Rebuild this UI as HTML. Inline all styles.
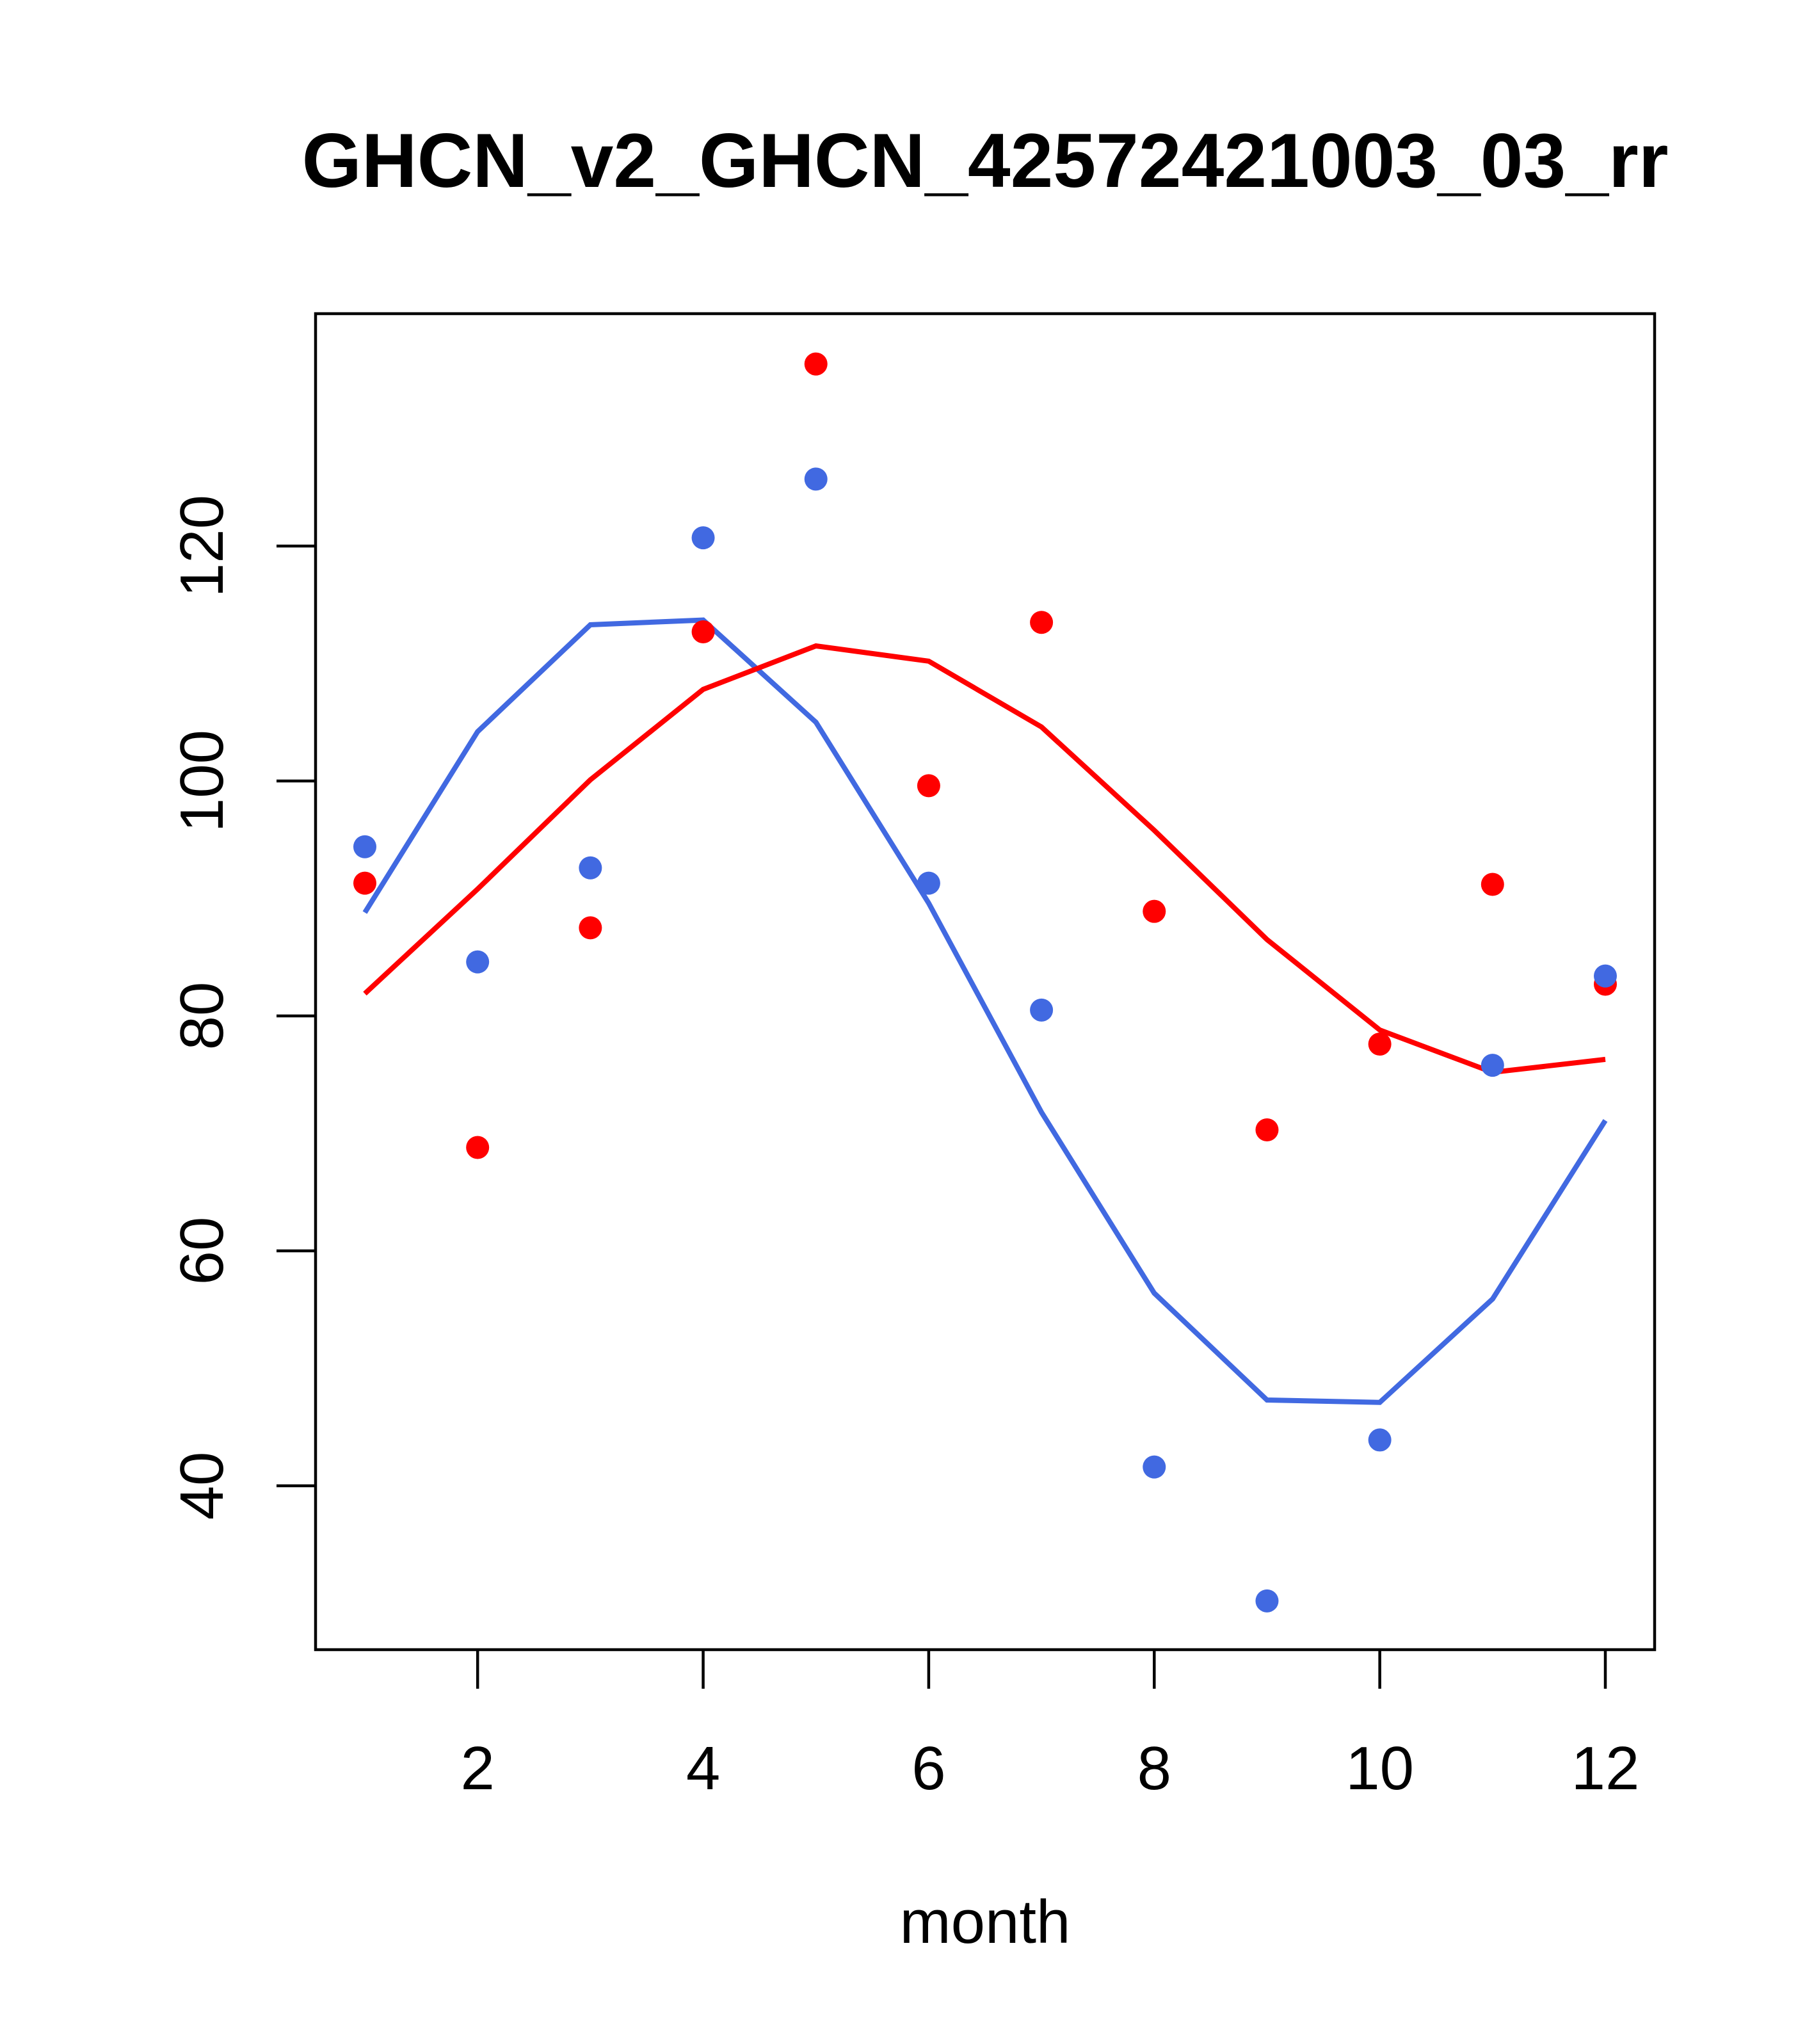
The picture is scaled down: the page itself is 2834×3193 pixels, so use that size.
<!DOCTYPE html>
<html><head><meta charset="utf-8"><style>html,body{margin:0;padding:0;background:#fff}</style></head>
<body>
<svg id="chart" width="2834" height="3188" viewBox="0 0 2834 3188" xmlns="http://www.w3.org/2000/svg" font-family="Liberation Sans, sans-serif">
<rect width="2834" height="3188" fill="#fff"/>
<text x="1539" y="292" text-anchor="middle" font-size="120" font-weight="bold">GHCN_v2_GHCN_42572421003_03_rr</text>
<rect x="493" y="490" width="2092" height="2087" fill="none" stroke="#000" stroke-width="4.5"/>
<text x="1539" y="3035" text-anchor="middle" font-size="96">month</text>
<g id="axes"></g><g id="series"></g>
</svg>
<script>
const months=[1,2,3,4,5,6,7,8,9,10,11,12];
const redPoints=[91.3,68.8,87.5,112.7,135.5,99.6,113.5,88.9,70.3,77.6,91.2,82.7];
const bluePoints=[94.4,84.6,92.6,120.7,125.7,91.3,80.5,41.6,30.2,43.9,75.8,83.4];
const redLine=[81.9,90.8,100.1,107.8,111.5,110.2,104.6,95.8,86.5,78.8,75.2,76.3];
const blueLine=[88.8,104.2,113.3,113.7,105.0,89.6,71.8,56.4,47.3,47.1,55.9,71.1];
const xTicks=[2,4,6,8,10,12];
const yTicks=[40,60,80,100,120];
const NS="http://www.w3.org/2000/svg";
function xs(m){return 570+(m-1)*(2508-570)/11;}
function ys(v){return 2321-(v-40)*(2321-853)/80;}
function mk(tag,attrs,parent){const e=document.createElementNS(NS,tag);for(const k in attrs)e.setAttribute(k,attrs[k]);parent.appendChild(e);return e;}
const ax=document.getElementById('axes');
xTicks.forEach(t=>{
 const l=mk('line',{x1:xs(t),x2:xs(t),y1:2577,y2:2638,stroke:'#000','stroke-width':4.5},ax);
 
 
 const tx=mk('text',{x:xs(t),y:2795,'text-anchor':'middle','font-size':96},ax);tx.textContent=t;
 
 
});
yTicks.forEach(t=>{
 const l=mk('line',{x1:432,x2:493,y1:ys(t),y2:ys(t),stroke:'#000','stroke-width':4.5},ax);
 
 
 const tx=mk('text',{x:348,y:ys(t),'text-anchor':'middle','font-size':96,transform:`rotate(-90 348 ${ys(t)})`},ax);tx.textContent=t;
 
 
});
const sr=document.getElementById('series');
function line(vals,color,name){
 const p=mk('polyline',{points:vals.map((v,i)=>xs(months[i])+','+ys(v)).join(' '),fill:'none',stroke:color,'stroke-width':8},sr);
 
 
}
function pts(vals,color,name){
 vals.forEach((v,i)=>{
  const c=mk('circle',{cx:xs(months[i]),cy:ys(v),r:18,fill:color},sr);
  
  
 });
}
line(blueLine,'#4169E1','blue-line');
line(redLine,'#FF0000','red-line');
pts(redPoints,'#FF0000','red-point');
pts(bluePoints,'#4169E1','blue-point');
</script>
</body></html>
